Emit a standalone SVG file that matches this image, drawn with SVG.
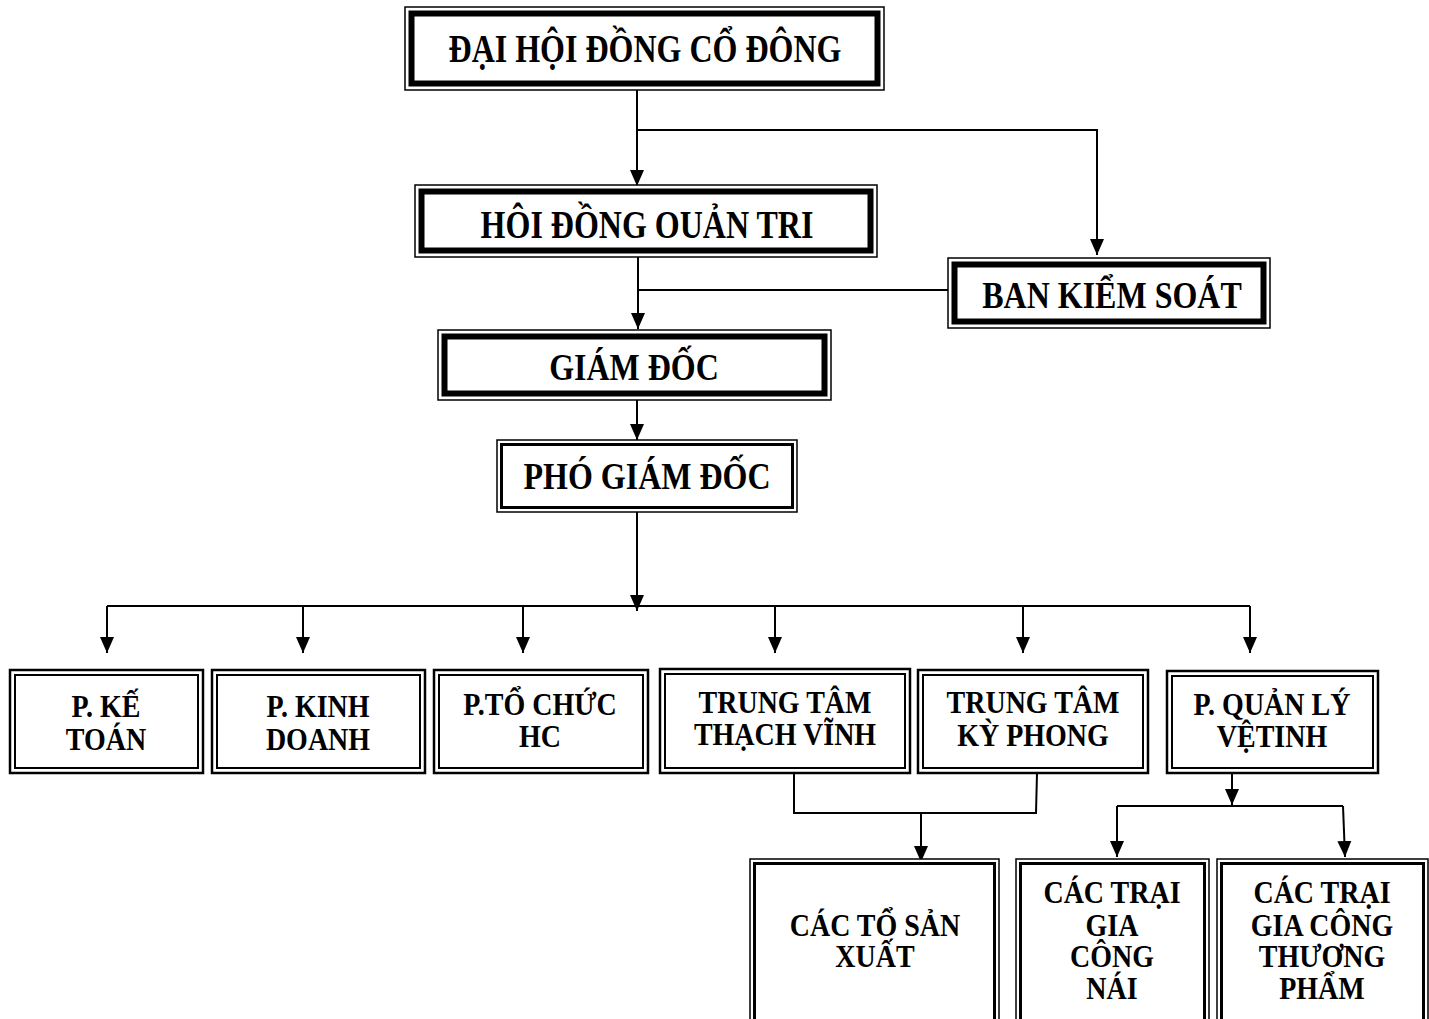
<svg xmlns="http://www.w3.org/2000/svg" width="1429" height="1019" viewBox="0 0 1429 1019">
<style>
  .bg{fill:#fff}
  .o1{fill:#fff;stroke:#000;stroke-width:1.5}
  .tk{fill:none;stroke:#000;stroke-width:6}
  .md{fill:none;stroke:#000;stroke-width:3}
  .o2{fill:#fff;stroke:#000;stroke-width:2.5}
  .i2{fill:none;stroke:#000;stroke-width:2}
  .t{font-family:"Liberation Serif","Times New Roman",serif;font-weight:bold;text-anchor:middle;fill:#000}
  .big{font-size:32px}
  .sm{font-size:28px}
  .c{fill:none;stroke:#000;stroke-width:2}
</style>
<defs>
  <marker id="ah" markerUnits="userSpaceOnUse" markerWidth="16" markerHeight="15" viewBox="0 0 16 14" refX="16" refY="7" orient="auto">
    <path d="M0,0 L16,7 L0,14 z" fill="#000"/>
  </marker>
</defs>
<rect class="bg" x="0" y="0" width="1429" height="1019"/>

<g id="connectors">
  <path class="c" d="M637,90 V186" marker-end="url(#ah)"/>
  <path class="c" d="M637,130 H1097 V255" marker-end="url(#ah)"/>
  <path class="c" d="M638,257 V329" marker-end="url(#ah)"/>
  <path class="c" d="M638,290 H948"/>
  <path class="c" d="M637,400 V440" marker-end="url(#ah)"/>
  <path class="c" d="M637,512 V611" marker-end="url(#ah)"/>
  <path class="c" d="M107,606 H1250"/>
  <path class="c" d="M107,606 V653" marker-end="url(#ah)"/>
  <path class="c" d="M303,606 V653" marker-end="url(#ah)"/>
  <path class="c" d="M523,606 V653" marker-end="url(#ah)"/>
  <path class="c" d="M775,606 V653" marker-end="url(#ah)"/>
  <path class="c" d="M1023,606 V653" marker-end="url(#ah)"/>
  <path class="c" d="M1250,606 V653" marker-end="url(#ah)"/>
  <path class="c" d="M794,773 V813 H1036 L1037,773"/>
  <path class="c" d="M921,813 V862" marker-end="url(#ah)"/>
  <path class="c" d="M1232,773 V805" marker-end="url(#ah)"/>
  <path class="c" d="M1117,806 H1343"/>
  <path class="c" d="M1117,806 V857" marker-end="url(#ah)"/>
  <path class="c" d="M1343,806 L1345,857" marker-end="url(#ah)"/>
</g>

<g id="dai-hoi-dong-co-dong">
  <rect class="o1" x="405" y="7" width="479" height="83"/>
  <rect class="tk" x="411.5" y="13.5" width="466" height="70"/>
  <text class="t big" transform="translate(645,62) scale(1,1.25)">ĐẠI HỘI ĐỒNG CỔ ĐÔNG</text>
</g>

<g id="hoi-dong-quan-tri">
  <rect class="o1" x="415" y="185" width="462" height="72"/>
  <rect class="tk" x="421.5" y="191.5" width="449" height="59"/>
  <text class="t big" transform="translate(647,238) scale(1,1.25)">HÔI ĐỒNG OUẢN TRI</text>
</g>

<g id="ban-kiem-soat">
  <rect class="o1" x="948" y="258" width="322" height="70"/>
  <rect class="tk" x="954.5" y="264.5" width="309" height="57"/>
  <text class="t big" transform="translate(1112,308) scale(1,1.18)">BAN KIỂM SOÁT</text>
</g>

<g id="giam-doc">
  <rect class="o1" x="438" y="330" width="393" height="70"/>
  <rect class="tk" x="444.5" y="336.5" width="380" height="57"/>
  <text class="t big" transform="translate(634,380) scale(1,1.18)">GIÁM ĐỐC</text>
</g>

<g id="pho-giam-doc">
  <rect class="o1" x="497" y="440" width="300" height="72"/>
  <rect class="md" x="501.5" y="444.5" width="291" height="63"/>
  <text class="t big" transform="translate(647,489) scale(1,1.18)">PHÓ GIÁM ĐỐC</text>
</g>

<g id="p-ke-toan">
  <rect class="o2" x="10" y="670" width="193" height="103"/>
  <rect class="i2" x="15" y="675" width="183" height="93"/>
  <text class="t sm" transform="translate(106,717) scale(1,1.12)">P. KẾ</text>
  <text class="t sm" transform="translate(106,750) scale(1,1.12)">TOÁN</text>
</g>

<g id="p-kinh-doanh">
  <rect class="o2" x="212" y="670" width="213" height="103"/>
  <rect class="i2" x="217" y="675" width="203" height="93"/>
  <text class="t sm" transform="translate(318,717) scale(1,1.12)">P. KINH</text>
  <text class="t sm" transform="translate(318,750) scale(1,1.12)">DOANH</text>
</g>

<g id="p-to-chuc-hc">
  <rect class="o2" x="434" y="670" width="214" height="103"/>
  <rect class="i2" x="439" y="675" width="204" height="93"/>
  <text class="t sm" transform="translate(540,715) scale(1,1.12)">P.TỔ CHỨC</text>
  <text class="t sm" transform="translate(540,747) scale(1,1.12)">HC</text>
</g>

<g id="trung-tam-thach-vinh">
  <rect class="o2" x="660" y="669" width="250" height="104"/>
  <rect class="i2" x="665" y="674" width="240" height="94"/>
  <text class="t sm" transform="translate(785,713) scale(1,1.12)">TRUNG TÂM</text>
  <text class="t sm" transform="translate(785,745) scale(1,1.12)">THẠCH VĨNH</text>
</g>

<g id="trung-tam-ky-phong">
  <rect class="o2" x="918" y="670" width="230" height="103"/>
  <rect class="i2" x="923" y="675" width="220" height="93"/>
  <text class="t sm" transform="translate(1033,713) scale(1,1.12)">TRUNG TÂM</text>
  <text class="t sm" transform="translate(1033,746) scale(1,1.12)">KỲ PHONG</text>
</g>

<g id="p-quan-ly-ve-tinh">
  <rect class="o2" x="1167" y="671" width="211" height="102"/>
  <rect class="i2" x="1172" y="676" width="201" height="92"/>
  <text class="t sm" transform="translate(1272,715) scale(1,1.12)">P. QUẢN LÝ</text>
  <text class="t sm" transform="translate(1272,747) scale(1,1.12)">VỆTINH</text>
</g>

<g id="cac-to-san-xuat">
  <rect class="o1" x="750" y="859" width="249" height="180"/>
  <rect class="md" x="754.5" y="863.5" width="240" height="171"/>
  <text class="t sm" transform="translate(875,936) scale(1,1.12)">CÁC TỔ SẢN</text>
  <text class="t sm" transform="translate(875,967) scale(1,1.12)">XUẤT</text>
</g>

<g id="cac-trai-gia-cong-nai">
  <rect class="o1" x="1016" y="859" width="193" height="180"/>
  <rect class="md" x="1020.5" y="863.5" width="184" height="171"/>
  <text class="t sm" transform="translate(1112,903) scale(1,1.12)">CÁC TRẠI</text>
  <text class="t sm" transform="translate(1112,936) scale(1,1.12)">GIA</text>
  <text class="t sm" transform="translate(1112,967) scale(1,1.12)">CÔNG</text>
  <text class="t sm" transform="translate(1112,999) scale(1,1.12)">NÁI</text>
</g>

<g id="cac-trai-gia-cong-thuong-pham">
  <rect class="o1" x="1217" y="859" width="211" height="180"/>
  <rect class="md" x="1221.5" y="863.5" width="202" height="171"/>
  <text class="t sm" transform="translate(1322,903) scale(1,1.12)">CÁC TRẠI</text>
  <text class="t sm" transform="translate(1322,936) scale(1,1.12)">GIA CÔNG</text>
  <text class="t sm" transform="translate(1322,967) scale(1,1.12)">THƯƠNG</text>
  <text class="t sm" transform="translate(1322,999) scale(1,1.12)">PHẨM</text>
</g>
</svg>
